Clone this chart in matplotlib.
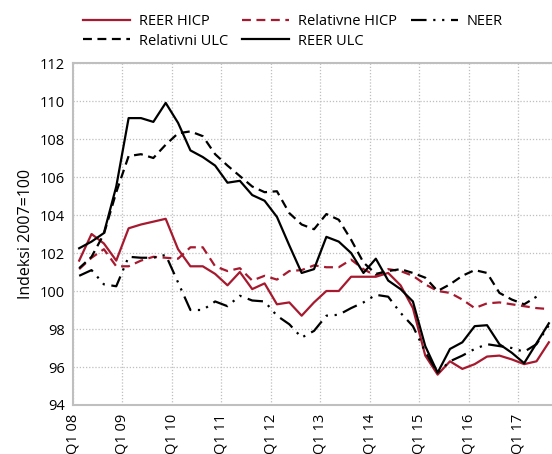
import numpy as np
from matplotlib import pyplot as plt

# Quarterly indices, Q1 2008 - Q3 2017 (2007=100)
reer_hicp = [101.6, 103.0, 102.5, 101.6, 103.3, 103.5, 103.65, 103.8, 102.2, 101.3,
             101.3, 100.9, 100.3, 101.0, 100.1, 100.4, 99.3, 99.4, 98.7, 99.4,
             100.0, 100.0, 100.75, 100.75, 100.75, 100.95, 100.3, 99.1, 96.6, 95.6,
             96.3, 95.9, 96.15, 96.55, 96.6, 96.4, 96.15, 96.3, 97.3]
rel_hicp = [101.15, 101.75, 102.2, 101.3, 101.3, 101.6, 101.8, 101.75, 101.7, 102.3,
            102.3, 101.3, 101.05, 101.2, 100.55, 100.8, 100.6, 101.05, 101.1, 101.35,
            101.25, 101.25, 101.65, 101.15, 100.8, 101.15, 101.05, 100.8, 100.35, 100.0,
            99.9, 99.55, 99.1, 99.35, 99.4, 99.3, 99.2, 99.1, 99.05]
neer = [100.8, 101.1, 100.35, 100.25, 101.8, 101.75, 101.75, 101.9, 100.45, 99.0,
        99.0, 99.45, 99.2, 99.75, 99.5, 99.45, 98.7, 98.25, 97.55, 97.9,
        98.7, 98.75, 99.1, 99.4, 99.8, 99.7, 98.85, 98.15, 96.8, 95.7,
        96.3, 96.6, 96.95, 97.2, 97.1, 97.0, 96.8, 97.2, 98.2]
rel_ulc = [101.2, 101.8, 103.0, 105.2, 107.1, 107.2, 107.0, 107.7, 108.3, 108.4,
           108.15, 107.2, 106.6, 106.05, 105.5, 105.2, 105.25, 104.1, 103.5, 103.25,
           104.05, 103.75, 102.7, 101.5, 100.9, 101.05, 101.15, 100.95, 100.7, 100.0,
           100.35, 100.8, 101.1, 100.95, 99.9, 99.55, 99.3, 99.7, np.nan]
reer_ulc = [102.25, 102.6, 103.05, 105.5, 109.1, 109.1, 108.9, 109.9, 108.85, 107.4,
            107.05, 106.6, 105.7, 105.8, 105.05, 104.75, 103.9, 102.4, 100.95, 101.15,
            102.85, 102.6, 102.0, 100.95, 101.7, 100.55, 100.1, 99.45, 97.1, 95.7,
            96.95, 97.3, 98.15, 98.2, 97.2, 96.75, 96.2, 97.25, 98.3]
tick_labels = ["Q1 08", "Q1 09", "Q1 10", "Q1 11", "Q1 12",
               "Q1 13", "Q1 14", "Q1 15", "Q1 16", "Q1 17"]

plt.rcParams['font.family'] = ['Open Sans', 'DejaVu Sans']
red = '#a6192e'
grey = '#bfbfbf'

fig = plt.figure(figsize=(5.52, 4.54), dpi=100)
ax = fig.add_axes([73/552, 49/454, 479/552, 342/454])

x = np.arange(len(reer_hicp)) + 0.5  # points sit in the middle of each quarter

l1, = ax.plot(x, reer_hicp, color=red, lw=1.6, label="REER HICP")
l2, = ax.plot(x, rel_hicp, color=red, lw=1.6, dashes=(4, 2.5), label="Relativne HICP")
l3, = ax.plot(x, neer, color='black', lw=1.6, dashes=(7, 3, 1, 3, 1, 3), label="NEER")
l4, = ax.plot(x, rel_ulc, color='black', lw=1.6, dashes=(4, 2.5), label="Relativni ULC")
l5, = ax.plot(x, reer_ulc, color='black', lw=1.6, label="REER ULC")

ax.set_xlim(0, 479/12.36)
ax.set_ylim(94, 112)
ax.set_yticks(np.arange(94, 113, 2))
ax.set_xticks(np.arange(0, 40, 4))
ax.set_xticklabels(tick_labels, rotation=90)
ax.tick_params(length=0, labelsize=10.5, pad=6)
ax.set_ylabel("Indeksi 2007=100", fontsize=11.5)
ax.grid(True, color=grey, ls=(0, (1, 1.5)), lw=0.9)

for s in ['left', 'bottom', 'top']:
    ax.spines[s].set_color(grey)
    ax.spines[s].set_linewidth(1.5)
ax.spines['right'].set_visible(False)

# column-wise fill so the rows read like the original legend
fig.legend(handles=[l1, l4, l2, l5, l3], ncol=3, loc='upper left',
           bbox_to_anchor=(70/552, 1 - 1/454), frameon=False, fontsize=10.5,
           handlelength=3.2, columnspacing=1.0, handletextpad=0.6, labelspacing=0.3)

plt.savefig("out.png", dpi=100)
